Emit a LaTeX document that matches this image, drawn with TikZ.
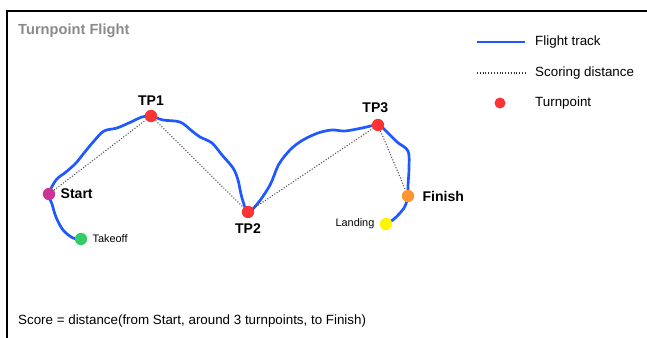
\documentclass[tikz,border=0pt]{standalone}
\usepackage{fontspec}
\setmainfont{Liberation Sans}
\usepackage{tikz}
\usetikzlibrary{positioning,backgrounds}
\definecolor{trackblue}{RGB}{30,88,255}
\definecolor{tpred}{RGB}{250,52,52}
\definecolor{startmag}{RGB}{204,51,153}
\definecolor{tkogreen}{RGB}{51,204,102}
\definecolor{finorange}{RGB}{255,150,51}
\definecolor{landyellow}{RGB}{255,245,0}
\definecolor{titlegray}{RGB}{138,138,140}
\tikzset{
  dot/.style   = {circle, inner sep=0pt, minimum size=0.37cm},
  tpdot/.style = {dot, fill=tpred},
  lbl/.style   = {inner sep=0pt, font=\fontsize{12}{14}\selectfont\bfseries},
  small/.style = {inner sep=0pt, font=\fontsize{9.3}{11}\selectfont},
  legtxt/.style= {inner sep=0pt, anchor=west, font=\fontsize{11.4}{13}\selectfont},
  track/.style = {draw=trackblue, line width=2.3pt, line cap=round, line join=round},
  score/.style = {draw=black!70, line width=0.9pt, dash pattern=on 0.9pt off 1.5pt}
}

\begin{document}
\begin{tikzpicture}[x=0.03cm, y=-0.03cm]
    \useasboundingbox (0,0) rectangle (647,338);
    % Rahmen nur oben und links
    \coordinate (frbl) at (7,340);
    \coordinate (frtl) at (7,11);
    \coordinate (frtr) at (650,11);
    \draw[line width=1.8pt] (frbl) -- (frtl) -- (frtr);

    \node[inner sep=0pt, anchor=west, text=titlegray,
          font=\fontsize{12.5}{14}\selectfont\bfseries] (title) at (18,31) {Turnpoint Flight};

    % Punkte
    \node[dot, fill=tkogreen]   (tko)   at (81,239)  {};
    \node[dot, fill=startmag]   (start) at (49,194)  {};
    \node[tpdot]                (tp1)   at (151,116) {};
    \node[tpdot]                (tp2)   at (248,212) {};
    \node[tpdot]                (tp3)   at (378,125) {};
    \node[dot, fill=finorange]  (fin)   at (408,196) {};
    \node[dot, fill=landyellow] (land)  at (386,224) {};

    \node[lbl, right=0.15cm of start] (startlbl) {Start};
    \node[lbl, above=0.13cm of tp1]   (tp1lbl)   {TP1};
    \node[lbl, below=0.15cm of tp2]   (tp2lbl)   {TP2};
    \node[lbl, above=0.17cm of tp3, xshift=-0.08cm] (tp3lbl) {TP3};
    \node[lbl, right=0.24cm of fin]   (finlbl)   {Finish};
    \node[small, right=0.15cm of tko] (tkolbl)   {Takeoff};
    \node[small, left=0.15cm of land] (landlbl)  {Landing};

    \begin{scope}[on background layer]
      \draw[track] plot[smooth, tension=0.55] coordinates {
        (tko.center) (73,238) (63,230) (56,217) (52,204) (start.center)
        (56,180) (66,172) (76,163) (84,153) (94,141) (104,131) (117,128)
        (131,122) (142,117) (tp1.center) (163,120) (180,122) (192,131)
        (200,137) (212,143) (222,155) (233,168) (238,180) (242,198) (tp2.center)
        (258,203) (270,185) (279,164) (291,149) (303,140) (318,133) (332,130)
        (345,131) (362,128) (tp3.center) (386,131) (397,142) (408,151)
        (409,168) (408,186) (fin.center) (404,208) (394,219) (land.center)};
      \draw[score] (start) -- (tp1) -- (tp2) -- (tp3) -- (fin);
    \end{scope}

    % Legende
    \coordinate (lga) at (477,42);
    \coordinate (lgb) at (525,42);
    \coordinate (lgc) at (477,73);
    \coordinate (lgd) at (525,73);
    \draw[draw=trackblue, line width=1.6pt] (lga) -- (lgb);
    \draw[draw=black!80, line width=0.9pt, dash pattern=on 0.9pt off 1.5pt] (lgc) -- (lgd);
    \node[tpdot, minimum size=0.33cm] (lgdot) at (500,103) {};
    \node[legtxt] (lgtrack) at (535,42)  {Flight track};
    \node[legtxt] (lgscore) at (535,73)  {Scoring distance};
    \node[legtxt] (lgtp)    at (535,103) {Turnpoint};

    \node[legtxt] (formula) at (18,321) {Score = distance(from Start, around 3 turnpoints, to Finish)};
\end{tikzpicture}
\end{document}
